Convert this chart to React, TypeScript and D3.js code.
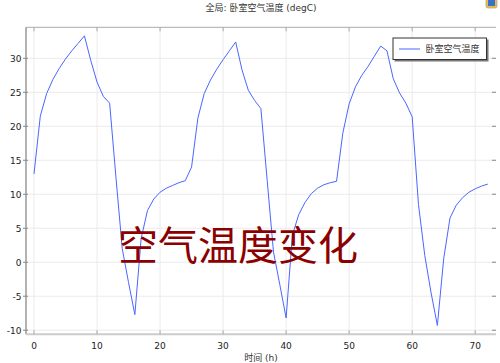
import React from "react";
import * as d3 from "d3";

const hours: number[] = d3.range(0, 73);
const temps: number[] = [
  13.0, 21.5, 24.8, 26.9, 28.5, 29.9, 31.1, 32.2, 33.3, 29.7, 26.5, 24.4, 23.4,
  12.5, 2.0, -3.0, -7.7, 3.5, 7.6, 9.3, 10.3, 10.9, 11.3, 11.7, 12.0,
  14.0, 21.2, 24.8, 26.8, 28.4, 29.8, 31.1, 32.4, 28.3, 25.3, 23.8, 22.6,
  12.0, 1.5, -3.3, -8.2, 4.0, 7.0, 8.8, 10.1, 10.9, 11.4, 11.7, 11.9,
  19.0, 23.3, 25.8, 27.5, 28.8, 30.3, 31.8, 31.1, 27.0, 24.9, 23.4, 21.4,
  8.5, 1.0, -4.5, -9.3, 0.5, 6.5, 8.4, 9.5, 10.3, 10.8, 11.2, 11.5,
];
const xTicks: number[] = [0, 10, 20, 30, 40, 50, 60, 70];
const yTicks: number[] = [-10, -5, 0, 5, 10, 15, 20, 25, 30];
const titleText = "全局: 卧室空气温度 (degC)";
const xLabel = "时间 (h)";
const seriesName = "卧室空气温度";
const overlayText = "空气温度变化";

const W = 500;
const H = 363;
const L = 26, R = 496, T = 27.3, B = 334.3;
const FONT = "'DejaVu Sans', 'Noto Sans CJK SC', sans-serif";
const CJK = "'Noto Sans CJK SC', 'DejaVu Sans', sans-serif";

export default function App() {
  const x = d3.scaleLinear().domain([-1.27, 73.3]).range([L, R]);
  const y = d3.scaleLinear().domain([-10.6, 34.56]).range([B, T]);
  const line = d3
    .line<number>()
    .x((_, i) => x(hours[i]))
    .y((d) => y(d));
  const path = line(temps) || "";
  const cx = (L + R) / 2;

  return (
    <svg
      width={W}
      height={H}
      viewBox={`0 0 ${W} ${H}`}
      style={{ position: "absolute", left: 0, top: 0, background: "#fff" }}
    >
      <rect x={0} y={0} width={W} height={H} fill="#fff" />
      {/* grid */}
      {xTicks.map((t) => (
        <line key={"gx" + t} x1={x(t)} x2={x(t)} y1={T} y2={B} stroke="#ebebeb" strokeWidth={1} />
      ))}
      {yTicks.map((t) => (
        <line key={"gy" + t} x1={L} x2={R} y1={y(t)} y2={y(t)} stroke="#ebebeb" strokeWidth={1} />
      ))}
      {/* frame */}
      <line x1={L} x2={R} y1={T} y2={T} stroke="#aaa" strokeWidth={1} />
      <line x1={L} x2={L} y1={T} y2={B} stroke="#999" strokeWidth={1.5} />
      <line x1={L} x2={R} y1={B} y2={B} stroke="#ccc" strokeWidth={2} />
      {/* ticks */}
      {xTicks.map((t) => (
        <g key={"tx" + t}>
          <line x1={x(t)} x2={x(t)} y1={B} y2={B - 4} stroke="#aaa" />
          <line x1={x(t)} x2={x(t)} y1={T} y2={T + 4} stroke="#aaa" />
          <text x={x(t)} y={348.5} fontSize={9} fontFamily={FONT} textAnchor="middle" fill="#222">
            {t}
          </text>
        </g>
      ))}
      {yTicks.map((t) => (
        <g key={"ty" + t}>
          <line x1={L - 3} x2={L + 2} y1={y(t)} y2={y(t)} stroke="#888" />
          <line x1={R - 4} x2={R} y1={y(t)} y2={y(t)} stroke="#888" />
          <text x={21.5} y={y(t) + 3.3} fontSize={9} fontFamily={FONT} textAnchor="end" fill="#222">
            {t}
          </text>
        </g>
      ))}
      {/* data line */}
      <path d={path} fill="none" stroke="#4a66ff" strokeWidth={1} />
      {/* title */}
      <text x={cx} y={11} fontSize={9} fontFamily={FONT} textAnchor="middle" fill="#333">
        {titleText}
      </text>
      {/* x label */}
      <text x={cx} y={360.5} fontSize={9} fontFamily={FONT} textAnchor="middle" fill="#333">
        {xLabel}
      </text>
      {/* legend */}
      <rect x={394.5} y={39.5} width={94} height={22} fill="#777" />
      <rect x={393} y={38} width={93.5} height={21.5} fill="#fff" stroke="#333" strokeWidth={1} />
      <line x1={399} x2={420} y1={49} y2={49} stroke="#4a66ff" strokeWidth={1} />
      <text x={425.5} y={52.3} fontSize={9} fontFamily={CJK} fill="#333">
        {seriesName}
      </text>
      {/* overlay text */}
      <text x={118} y={260} fontSize={40} fontFamily={CJK} fill="#8b0000">
        {overlayText}
      </text>
      {/* corner icon */}
      <g>
        <rect x={486} y={-3} width={11} height={11} rx={2} fill="#e8c030" stroke="#aaa" strokeWidth={0.8} />
        <rect x={488} y={-1} width={7} height={7} fill="#3a6fd0" />
      </g>
    </svg>
  );
}
